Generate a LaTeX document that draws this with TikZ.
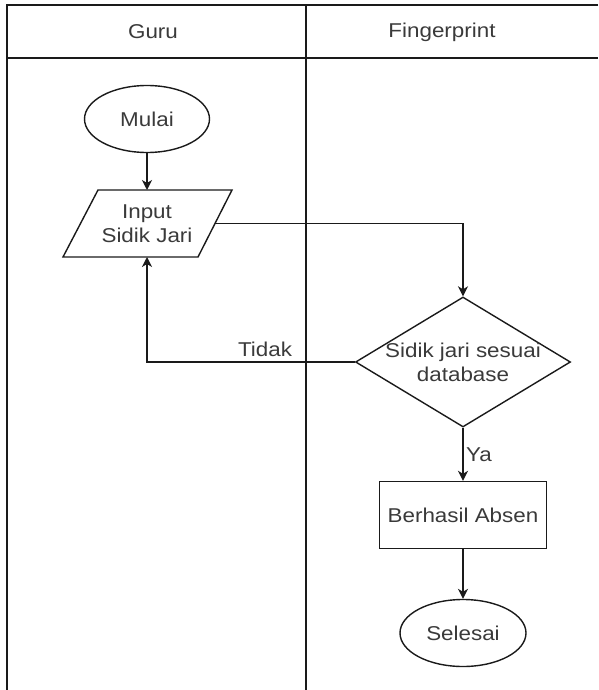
\documentclass[tikz,border=0pt]{standalone}
\usepackage{fontspec}
\setmainfont[FakeStretch=1.12]{Liberation Sans}
\usetikzlibrary{shapes.geometric,arrows.meta}
\definecolor{txt}{HTML}{3A3A3A}
\definecolor{ln}{HTML}{1A1A1A}
\begin{document}
\begin{tikzpicture}[x=1pt,y=-1pt,
  every node/.style={font=\fontsize{20}{24}\selectfont, text=txt},
  lane/.style={draw=ln, line width=2pt},
  shapebox/.style={draw=ln, line width=1.4pt, inner sep=0pt},
  conn/.style={draw=ln, line width=1.4pt, -{Stealth[length=10pt,width=10pt,inset=3pt]}},
  plain/.style={draw=ln, line width=1.4pt}]
\useasboundingbox (0,0) rectangle (598,690);
% swimlanes
\draw[lane] (598,5) -- (7,5) -- (7,690);
\draw[lane] (7,58) -- (598,58);
\draw[lane] (306,5) -- (306,690);
\node (hguru) at (153,32) {Guru};
\node (hfp) at (442,32) {Fingerprint};
% nodes
\node[shapebox, ellipse, minimum width=125pt, minimum height=67pt] (mulai) at (147,119) {Mulai};
\draw[plain] (98,190) -- (232,190) -- (198,257) -- (63,257) -- cycle;
\coordinate (inT) at (147,190);
\coordinate (inB) at (147,257);
\coordinate (inR) at (215,223.5);
\node[align=center] (input) at (147,223.5) {Input\\Sidik Jari};
\node[shapebox, diamond, minimum width=215pt, minimum height=130pt] (dia) at (463,362) {};
\node[align=center] (diatxt) at (463,362) {Sidik jari sesuai\\database};
\node[shapebox, rectangle, minimum width=167pt, minimum height=67pt] (ok) at (463,515) {Berhasil Absen};
\node[shapebox, ellipse, minimum width=126pt, minimum height=67pt] (selesai) at (463,633) {Selesai};
% connectors
\draw[conn] (mulai) -- (inT);
\draw[conn] (inR) -| (dia.north);
\draw[conn] (dia.west) -| (inB);
\node (tidak) at (265,349) {Tidak};
\draw[conn] (dia.south) -- (ok.north);
\node (ya) at (479,455) {Ya};
\draw[conn] (ok.south) -- (selesai.north);
\end{tikzpicture}
\end{document}
